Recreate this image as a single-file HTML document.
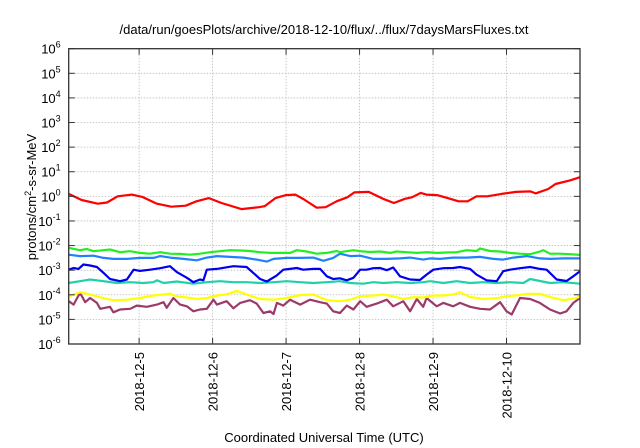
<!DOCTYPE html>
<html><head><meta charset="utf-8"><style>
html,body{margin:0;padding:0;background:#fff;}
svg{display:block;font-family:"Liberation Sans",sans-serif;}
</style></head><body>
<svg id="chart" width="640" height="448" viewBox="0 0 640 448" xmlns="http://www.w3.org/2000/svg">
<text x="324" y="34" font-size="13" text-anchor="middle">/data/run/goesPlots/archive/2018-12-10/flux/../flux/7daysMarsFluxes.txt</text>
<text x="324" y="442" font-size="13" text-anchor="middle">Coordinated Universal Time (UTC)</text>
<text transform="translate(36,197) rotate(-90)" font-size="13" text-anchor="middle">protons/cm<tspan dy="-5" font-size="9">2</tspan><tspan dy="5">-s-sr-MeV</tspan></text>
<g id="grid"></g><g id="series"></g><g id="axes"></g>
</svg>
<script>
const dateLabels=["2018-12-5","2018-12-6","2018-12-7","2018-12-8","2018-12-9","2018-12-10"];
const dateHours=[24,48,72,96,120,144];
const decades=[-6,-5,-4,-3,-2,-1,0,1,2,3,4,5,6];
const redT=[1,5.2,10.5,13.5,17,21.6,25.2,29.8,34.5,39.2,42.7,46.8,50.9,57.4,62.6,65,68.5,72,75,77.9,82,84.9,88.5,92,94.3,99,103.7,107.2,110.8,113.1,116,117.8,121.3,124.8,128.3,131.3,134.2,137.7,142.4,147.1,151.8,153.5,157.6,160,164.7,168];
const redLog=[0.1,-0.15,-0.3,-0.25,0,0.07,-0.03,-0.3,-0.42,-0.38,-0.2,-0.07,-0.27,-0.52,-0.45,-0.4,-0.07,0.05,0.07,-0.13,-0.46,-0.44,-0.2,-0.04,0.16,0.18,-0.1,-0.27,-0.1,-0.04,0.14,0.07,0.05,-0.07,-0.2,-0.2,0,0,0.1,0.18,0.2,0.12,0.3,0.5,0.65,0.78];
const greenT=[1,4.7,6.9,9.1,12.4,14.5,17.8,21.1,24.3,27.6,30.9,34.1,37.4,40.6,43.9,47.2,50.4,53.7,57,60.2,63.5,66.8,70,73.3,75.5,78.7,82,85.3,88.5,89.6,94,96.2,99.4,102.7,106,108.1,111.4,114.7,117.9,121.2,124.4,127.7,131,134.2,135.3,138.6,141.9,145.1,148.4,151.7,154.9,156,158.2,161.5,164.7,168];
const greenLog=[-2.09,-2.19,-2.14,-2.23,-2.19,-2.16,-2.27,-2.23,-2.3,-2.33,-2.27,-2.33,-2.34,-2.37,-2.33,-2.27,-2.23,-2.19,-2.2,-2.22,-2.27,-2.3,-2.3,-2.3,-2.19,-2.24,-2.33,-2.3,-2.22,-2.27,-2.19,-2.23,-2.26,-2.24,-2.3,-2.24,-2.27,-2.3,-2.27,-2.3,-2.28,-2.27,-2.19,-2.22,-2.12,-2.22,-2.24,-2.3,-2.33,-2.35,-2.24,-2.19,-2.33,-2.33,-2.35,-2.38];
const lblueT=[1,4.7,9.1,12.4,15.6,20,24.3,28.7,30.9,34.1,38.5,42.8,46.1,49.4,53.7,58.1,62.4,65.7,67.9,72.2,76.6,80.9,84.2,87.4,89.6,92.9,96.2,100.5,104.9,109.2,112.5,116.8,119,122.3,126.6,131,135.3,139.7,142.9,146.2,150.6,154.9,158.2,162.5,168];
const lblueLog=[-2.37,-2.43,-2.41,-2.5,-2.54,-2.54,-2.5,-2.5,-2.43,-2.49,-2.54,-2.6,-2.49,-2.43,-2.46,-2.49,-2.57,-2.65,-2.54,-2.5,-2.5,-2.49,-2.62,-2.5,-2.33,-2.43,-2.41,-2.54,-2.54,-2.52,-2.49,-2.57,-2.52,-2.54,-2.49,-2.49,-2.46,-2.54,-2.57,-2.49,-2.43,-2.52,-2.54,-2.52,-2.52];
const dblueT=[1,2.6,4.2,5.8,8,10.2,12.4,14.5,17.8,20,22.2,24.3,27.6,30.9,34.1,36.3,39.6,41.7,43.9,45,46.1,49.4,54.8,59.1,61.3,63.5,65.7,68.9,71.1,73.3,75.5,77.6,80.9,83.1,85.3,87.4,89.6,91.8,94,96.2,98.3,100.5,102.7,104.9,107,109.2,112.5,115.7,117.9,120.1,123.4,126.6,128.8,132.1,134.2,137.5,140.8,142.9,145.1,148.4,151.7,154.9,157.1,160.4,163.6,165.8,168];
const dblueLog=[-2.98,-2.91,-2.95,-2.77,-2.81,-2.87,-3.11,-3.36,-3.45,-3.38,-2.98,-3.03,-2.98,-2.92,-2.84,-3.08,-3.31,-3.49,-3.38,-3.41,-2.98,-2.95,-2.84,-2.87,-3.11,-3.36,-3.46,-3.22,-2.98,-2.95,-2.91,-2.98,-2.95,-2.95,-3.25,-3.36,-3.33,-3.41,-3.31,-2.98,-2.98,-2.92,-2.91,-3,-2.89,-3.25,-3.38,-3.4,-3.18,-2.98,-2.92,-2.91,-2.87,-2.95,-3.18,-3.41,-3.45,-3.04,-2.98,-2.92,-2.87,-2.95,-2.98,-3.38,-3.44,-3.25,-3.04];
const tealT=[1,4.7,8,12.4,16.7,21.1,25.4,28.7,29.8,32,36.3,41.7,46.1,50.4,54.8,59.1,63.5,67.9,72.2,76.6,80.9,85.3,89.6,92.9,97.2,100.5,103.8,108.1,112.5,116.8,119,123.4,127.7,132.1,136.4,140.8,145.1,149.5,151.7,154.9,158.2,162.5,168];
const tealLog=[-3.52,-3.45,-3.38,-3.45,-3.52,-3.49,-3.52,-3.49,-3.41,-3.52,-3.46,-3.55,-3.49,-3.45,-3.49,-3.49,-3.52,-3.49,-3.45,-3.49,-3.52,-3.49,-3.45,-3.52,-3.55,-3.49,-3.52,-3.49,-3.52,-3.49,-3.45,-3.52,-3.45,-3.52,-3.49,-3.52,-3.49,-3.52,-3.36,-3.44,-3.52,-3.49,-3.55];
const yellowT=[1,4.7,8,12.4,15.6,20,24.3,28.7,32,34.1,36.3,39.6,42.8,46.1,49.4,52.6,55.9,59.1,63.5,67.9,72.2,76.6,80.9,85.3,89.6,92.9,96.2,100.5,103.8,106.9,110.3,113.6,116.8,120.1,123.4,126.6,128.8,132.1,136.4,140.8,144,148.4,150.6,154.9,158.2,162.5,166.9,168];
const yellowLog=[-4.06,-3.9,-3.99,-4.14,-4.22,-4.2,-4.13,-4.03,-3.99,-3.95,-4.06,-4.11,-4.17,-4.13,-4.03,-3.98,-3.84,-3.99,-4.17,-4.2,-4.13,-4.01,-3.99,-4.22,-4.26,-4.2,-4.06,-4.03,-3.99,-4.06,-4.17,-4.1,-4.11,-4.03,-4.03,-3.99,-3.9,-4.09,-4.17,-4.14,-4.06,-4.01,-3.96,-3.96,-4.09,-4.22,-4.13,-4.06];
const purpleT=[1,2.6,4.7,6.4,8,10.2,11.3,14.5,15.6,17.8,21.1,23.2,26.5,29.8,32,33,35.2,37.4,39.6,41.7,43.9,46.1,48.3,49.4,52.6,54.8,57,60.2,62.4,64.6,66.8,67.9,69,71.1,73.3,76.6,79.8,83.1,85.3,87.4,89.6,91.8,94,96.2,98.3,101.6,104.9,107,110.3,112.5,114.7,116.8,117.9,121.2,123.4,126.6,128.8,132.1,135.3,138.6,141.9,144,145.7,148.4,151.7,154.9,158.2,161.5,163.6,165.8,168];
const purpleLog=[-4.26,-4.4,-3.92,-4.3,-4.13,-4.33,-4.57,-4.49,-4.71,-4.6,-4.57,-4.44,-4.49,-4.4,-4.3,-4.53,-4.13,-4.4,-4.47,-4.67,-4.6,-4.57,-4.2,-4.4,-4.26,-4.55,-4.33,-4.22,-4.36,-4.74,-4.67,-4.78,-4.33,-4.44,-4.2,-4.4,-4.2,-4.3,-4.36,-4.67,-4.74,-4.44,-4.6,-4.26,-4.49,-4.36,-4.2,-4.47,-4.26,-4.67,-4.17,-4.49,-4.13,-4.47,-4.33,-4.47,-4.33,-4.49,-4.57,-4.6,-4.3,-4.67,-4.8,-4.13,-4.17,-4.33,-4.6,-4.76,-4.67,-4.33,-4.13];

const L=68.7,R=580,T=48.7,B=344,H0=1,H1=168,Y0=-6,Y1=6;
const NS="http://www.w3.org/2000/svg";
function xs(h){return L+(h-H0)/(H1-H0)*(R-L);}
function ys(v){return B-(v-Y0)/(Y1-Y0)*(B-T);}
function mk(tag,parent){const e=document.createElementNS(NS,tag);parent.appendChild(e);return e;}
const grid=document.getElementById('grid'),axes=document.getElementById('axes'),ser=document.getElementById('series');
decades.forEach(d=>{
  const y=ys(d);
  if(d>Y0&&d<Y1){const g=mk('line',grid);
    
    
    g.setAttribute('x1',L);g.setAttribute('x2',R);g.setAttribute('y1',y);g.setAttribute('y2',y);
    g.setAttribute('stroke','#bbb');g.setAttribute('stroke-width','0.8');g.setAttribute('stroke-dasharray','1.5,1.5');}
  [[L,L+6],[R,R-6]].forEach(p=>{const t=mk('line',axes);
    
    
    t.setAttribute('x1',p[0]);t.setAttribute('x2',p[1]);t.setAttribute('y1',y);t.setAttribute('y2',y);t.setAttribute('stroke','#333');t.setAttribute('stroke-width','1');});
  const tx=mk('text',axes);
  
  
  tx.setAttribute('x',L-8);tx.setAttribute('y',y+5);tx.setAttribute('font-size','13');tx.setAttribute('text-anchor','end');
  tx.innerHTML='10<tspan dy="-6" font-size="9">'+d+'</tspan>';
});
dateHours.forEach((h,i)=>{
  const x=xs(h);
  const g=mk('line',grid);
  
  
  g.setAttribute('x1',x);g.setAttribute('x2',x);g.setAttribute('y1',T);g.setAttribute('y2',B);
  g.setAttribute('stroke','#bbb');g.setAttribute('stroke-width','0.8');g.setAttribute('stroke-dasharray','1.5,1.5');
  [[B,B-6],[T,T+6]].forEach(p=>{const t=mk('line',axes);
    
    
    t.setAttribute('x1',x);t.setAttribute('x2',x);t.setAttribute('y1',p[0]);t.setAttribute('y2',p[1]);t.setAttribute('stroke','#333');t.setAttribute('stroke-width','1');});
  const tx=mk('text',axes);
  
  
  tx.setAttribute('transform','translate('+(x+5)+','+(B+8)+') rotate(-90)');
  tx.setAttribute('font-size','13');tx.setAttribute('text-anchor','end');
  tx.textContent=dateLabels[i];
});
const fr=mk('rect',axes);


fr.setAttribute('x',L);fr.setAttribute('y',T);fr.setAttribute('width',R-L);fr.setAttribute('height',B-T);
fr.setAttribute('fill','none');fr.setAttribute('stroke','#333');fr.setAttribute('stroke-width','1.3');
function line(t,v,color,name){
  const p=mk('polyline',ser);
  
  
  p.setAttribute('points',t.map((h,i)=>xs(h).toFixed(1)+','+ys(v[i]).toFixed(1)).join(' '));
  p.setAttribute('fill','none');p.setAttribute('stroke',color);p.setAttribute('stroke-width','2.2');p.setAttribute('stroke-linejoin','round');
}
line(purpleT,purpleLog,'#9b3a6a','series-purple');
line(yellowT,yellowLog,'#ffff00','series-yellow');
line(tealT,tealLog,'#20d0a8','series-teal');
line(dblueT,dblueLog,'#0000ee','series-dark-blue');
line(lblueT,lblueLog,'#2080ff','series-light-blue');
line(greenT,greenLog,'#22ee22','series-green');
line(redT,redLog,'#ff0000','series-red');
</script>
</body></html>
